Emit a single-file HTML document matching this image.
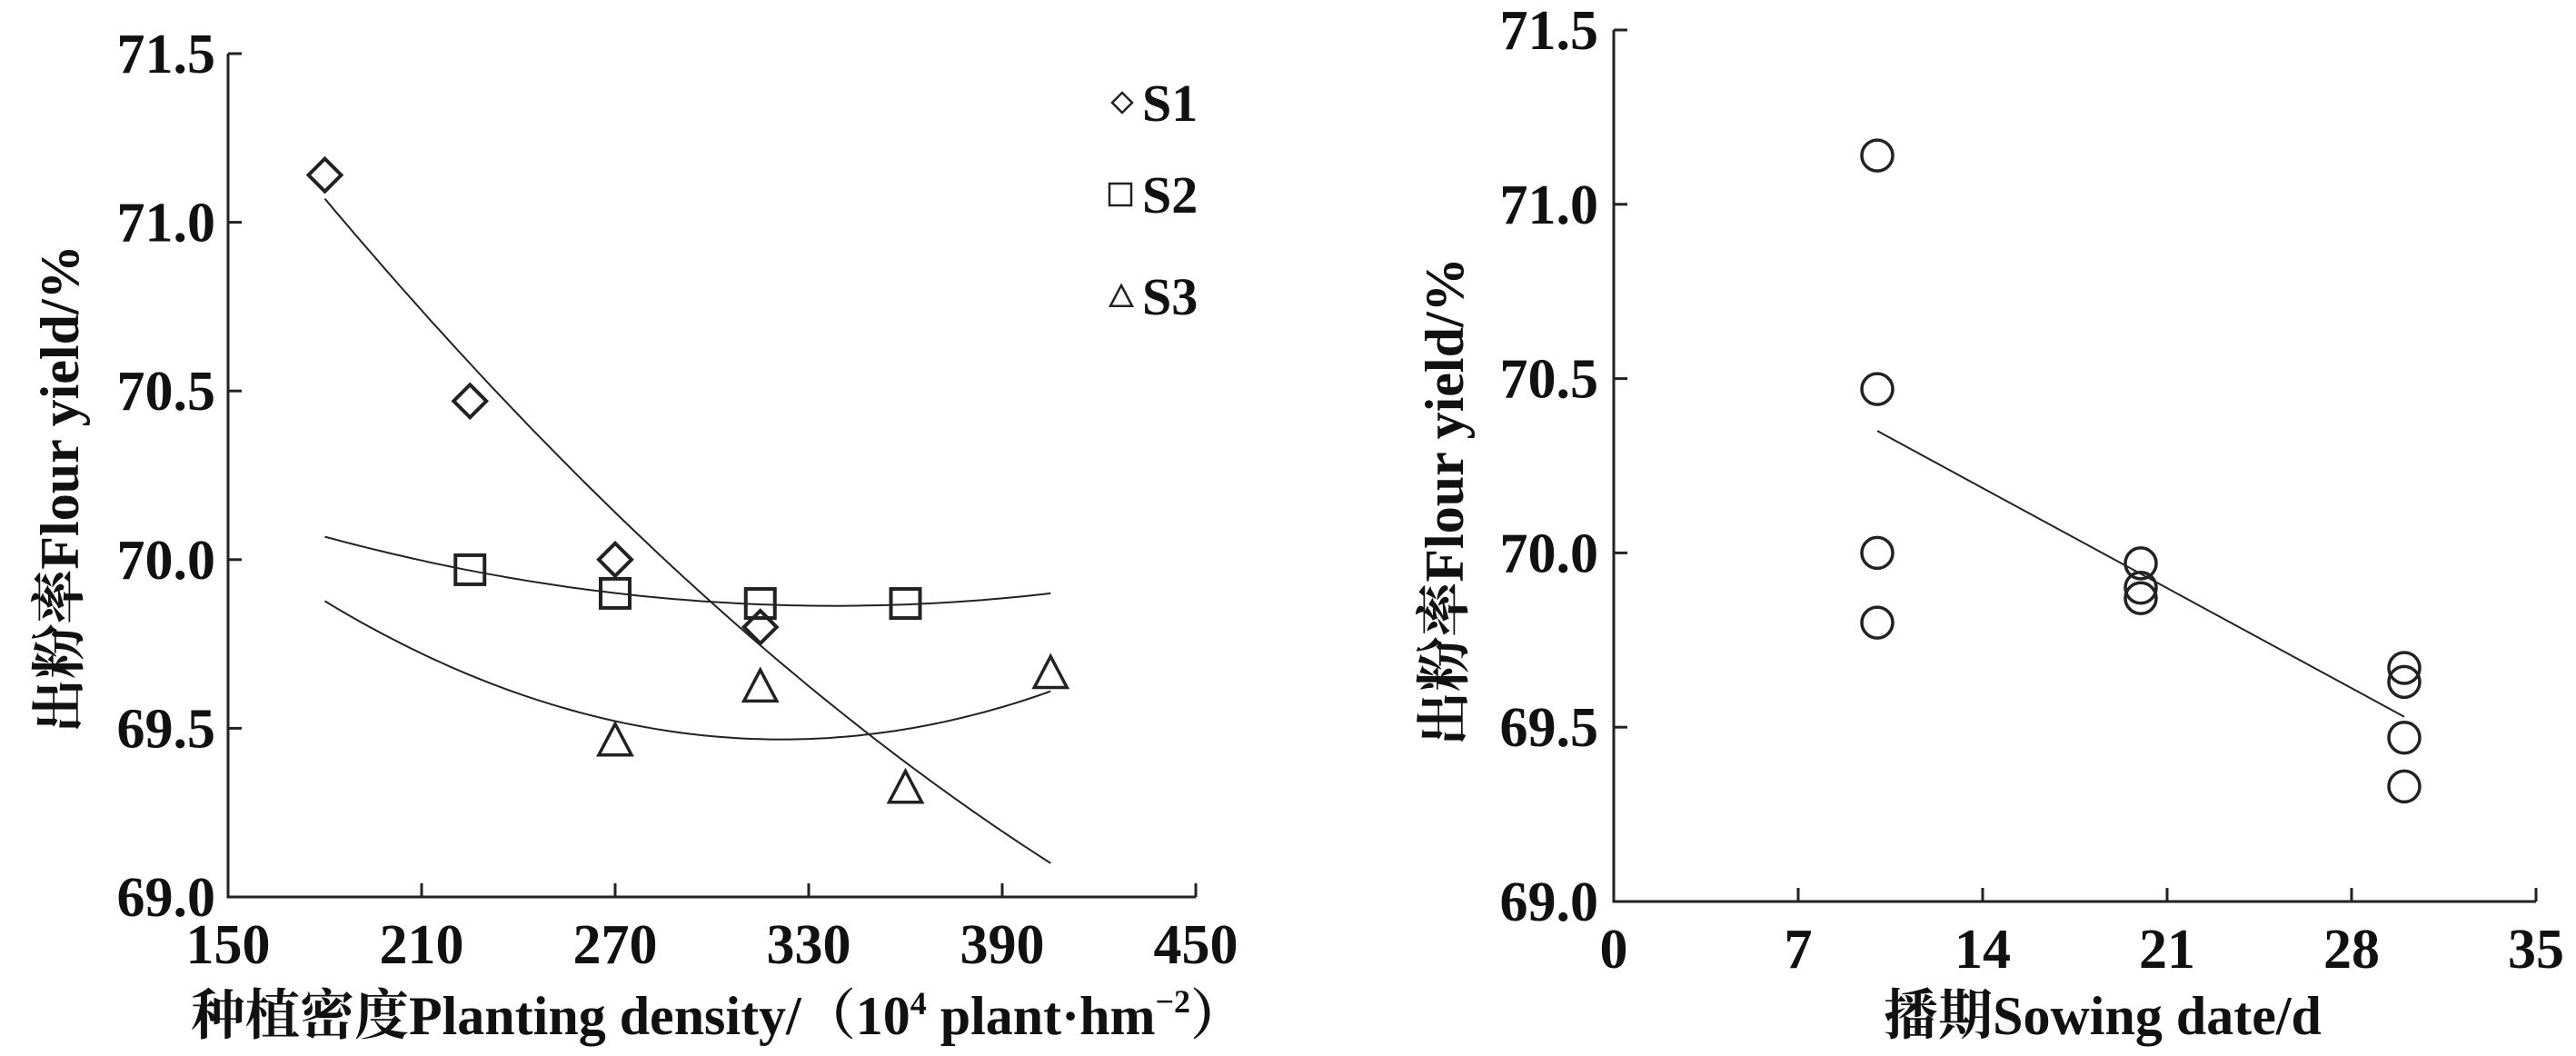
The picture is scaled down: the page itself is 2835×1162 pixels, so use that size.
<!DOCTYPE html>
<html><head><meta charset="utf-8"><style>
html,body{margin:0;padding:0;background:#fff;}
svg{display:block;}
text{font-family:"Liberation Serif","Times New Roman","Noto Serif CJK SC",serif;fill:#111;font-weight:bold;}
</style></head><body>
<svg id="s" width="2835" height="1162" viewBox="0 0 2835 1162" xmlns="http://www.w3.org/2000/svg" font-family="Liberation Serif, Noto Serif CJK SC, serif">
<rect width="2835" height="1162" fill="#fff"/>
<g id="g"></g>
<text x="790" y="1138" font-size="60" text-anchor="middle">种植密度Planting density/（10<tspan font-size="36" dy="-22">4</tspan><tspan dy="22"> plant·hm</tspan><tspan font-size="36" dy="-24">−2</tspan><tspan dy="24">）</tspan></text>
<text x="2314" y="1138" font-size="60" text-anchor="middle">播期Sowing date/d</text>
<text transform="translate(86,538) rotate(-90)" font-size="60" text-anchor="middle">出粉率Flour yield/%</text>
<text transform="translate(1610,552) rotate(-90)" font-size="60" text-anchor="middle">出粉率Flour yield/%</text>
<text x="1257" y="133" font-size="58">S1</text>
<text x="1257" y="234" font-size="58">S2</text>
<text x="1257" y="346" font-size="58">S3</text>
</svg>
<script>
var g=document.getElementById('g'),h='';
function LX(v){return 251+(v-150)*1065/300;}
function LY(v){return 987-(v-69)*928/2.5;}
function RX(v){return 1776+v*1015/35;}
function RY(v){return 992-(v-69)*959/2.5;}
var st='stroke="#222" fill="none"';
h+='<path d="M251,59 V987 H1316" '+st+' stroke-width="3"/>';
[69.5,70,70.5,71,71.5].forEach(function(v){var y=LY(v);h+='<line x1="251" x2="266" y1="'+y+'" y2="'+y+'" '+st+' stroke-width="3"/>';});
[69,69.5,70,70.5,71,71.5].forEach(function(v){h+='<text x="237" y="'+(LY(v)+21)+'" font-size="62" text-anchor="end">'+v.toFixed(1)+'</text>';});
[150,210,270,330,390,450].forEach(function(v){var x=LX(v);if(v>150)h+='<line x1="'+x+'" x2="'+x+'" y1="987" y2="972" '+st+' stroke-width="3"/>';h+='<text x="'+x+'" y="1060" font-size="62" text-anchor="middle">'+v+'</text>';});
h+='<path d="M1776,33 V992 H2791" '+st+' stroke-width="3"/>';
[69.5,70,70.5,71,71.5].forEach(function(v){var y=RY(v);h+='<line x1="1776" x2="1791" y1="'+y+'" y2="'+y+'" '+st+' stroke-width="3"/>';});
[69,69.5,70,70.5,71,71.5].forEach(function(v){h+='<text x="1759" y="'+(RY(v)+21)+'" font-size="62" text-anchor="end">'+v.toFixed(1)+'</text>';});
[0,7,14,21,28,35].forEach(function(v){var x=RX(v);if(v>0)h+='<line x1="'+x+'" x2="'+x+'" y1="992" y2="977" '+st+' stroke-width="3"/>';h+='<text x="'+x+'" y="1065" font-size="62" text-anchor="middle">'+v+'</text>';});
function curve(f){var p='';for(var x=180;x<=405;x+=3){p+=(x==180?'M':'L')+LX(x).toFixed(1)+','+LY(f(x)).toFixed(1);}h+='<path d="'+p+'" '+st+' stroke-width="2"/>';}
curve(function(x){var t=x-180;return 71.07+1.169e-5*t*t-0.011386*t;});
curve(function(x){return 69.863+8.22e-6*(x-337.9)*(x-337.9);});
curve(function(x){return 69.467+2.048e-5*(x-321.5)*(x-321.5);});
function dia(x,y,r,w){h+='<path d="M'+x+','+(y-r)+' L'+(x+r)+','+y+' L'+x+','+(y+r)+' L'+(x-r)+','+y+'Z" '+st+' stroke-width="'+w+'"/>';}
function sq(x,y,r,w){h+='<rect x="'+(x-r)+'" y="'+(y-r)+'" width="'+2*r+'" height="'+2*r+'" '+st+' stroke-width="'+w+'"/>';}
function tri(x,y,r,w){h+='<path d="M'+x+','+(y-r)+' L'+(x+r)+','+(y+r*0.9)+' L'+(x-r)+','+(y+r*0.9)+'Z" '+st+' stroke-width="'+w+'"/>';}
[[180,71.14],[225,70.47],[270,70.0],[315,69.8]].forEach(function(p){dia(LX(p[0]),LY(p[1]),18,4);});
[[225,69.97],[270,69.9],[315,69.87],[360,69.87]].forEach(function(p){sq(LX(p[0]),LY(p[1]),16,4);});
[[270,69.47],[315,69.63],[360,69.33],[405,69.67]].forEach(function(p){tri(LX(p[0]),LY(p[1])+2,18,3.5);});
dia(1235,113,11,2.5);sq(1233,214,12,2.5);tri(1234,326,12,2.5);
h+='<line x1="'+RX(10)+'" y1="'+RY(70.35)+'" x2="'+RX(30)+'" y2="'+RY(69.53)+'" '+st+' stroke-width="2"/>';
[[10,71.14],[10,70.47],[10,70.0],[10,69.8],[20,69.97],[20,69.9],[20,69.87],[30,69.67],[30,69.63],[30,69.47],[30,69.33]].forEach(function(p){h+='<circle cx="'+RX(p[0])+'" cy="'+RY(p[1])+'" r="17" '+st+' stroke-width="3.5"/>';});
g.innerHTML=h;
</script>
</body></html>
